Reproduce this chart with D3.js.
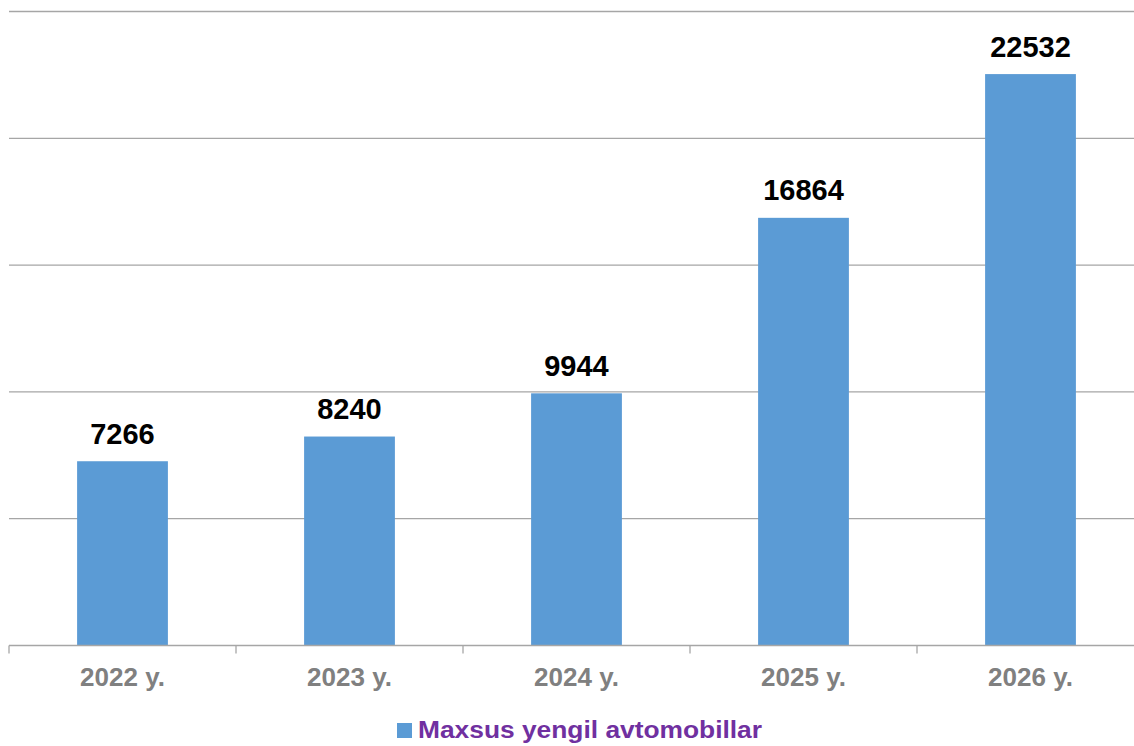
<!DOCTYPE html>
<html><head><meta charset="utf-8">
<script src="https://cdn.jsdelivr.net/npm/d3@7"></script>
<style>html,body{margin:0;padding:0;background:#fff;overflow:hidden}</style>
</head><body><svg id="c" width="1134" height="746"></svg>
<script>
const categories = ["2022 y.", "2023 y.", "2024 y.", "2025 y.", "2026 y."];
const values = [7266, 8240, 9944, 16864, 22532];
const yTicks = [0, 5000, 10000, 15000, 20000, 25000];
const seriesName = "Maxsus yengil avtomobillar";

const svg = d3.select("#c");
const font = "'Liberation Sans', Arial, sans-serif";
const x = d3.scaleBand().domain(categories).range([9, 1144]).paddingInner(0.6).paddingOuter(0.3);
const y = d3.scaleLinear().domain([0, 25000]).range([645.5, 11.5]);

// gridlines
svg.append("g").selectAll("line").data(yTicks.slice(1)).join("line")
  .attr("x1", 9).attr("x2", 1134)
  .attr("y1", d => y(d)).attr("y2", d => y(d))
  .attr("stroke", "#a6a6a6").attr("stroke-width", 1.3);

// bars
svg.append("g").selectAll("rect").data(values).join("rect")
  .attr("x", (d, i) => x(categories[i]))
  .attr("width", x.bandwidth())
  .attr("y", d => y(d))
  .attr("height", d => y(0) - y(d))
  .attr("fill", "#5b9bd5");

// x axis
const step = x.step();
const edges = d3.range(categories.length + 1).map(i => 9 + i * step);
const ax = svg.append("g");
ax.append("line").attr("x1", 9).attr("x2", 1134).attr("y1", y(0)).attr("y2", y(0))
  .attr("stroke", "#a6a6a6").attr("stroke-width", 1.3);
ax.selectAll("line.t").data(edges).join("line").attr("class", "t")
  .attr("x1", d => d).attr("x2", d => d).attr("y1", y(0)).attr("y2", y(0) + 8)
  .attr("stroke", "#a6a6a6").attr("stroke-width", 1.3);
ax.selectAll("text").data(categories).join("text")
  .attr("x", d => x(d) + x.bandwidth() / 2).attr("y", 686)
  .attr("text-anchor", "middle").attr("font-family", font).attr("font-weight", "bold")
  .attr("font-size", 26).attr("fill", "#808080").text(d => d);

// data labels
svg.append("g").selectAll("text").data(values).join("text")
  .attr("x", (d, i) => x(categories[i]) + x.bandwidth() / 2)
  .attr("y", d => y(d) - 17.5)
  .attr("text-anchor", "middle").attr("font-family", font).attr("font-weight", "bold")
  .attr("font-size", 29).attr("fill", "#000").text(d => d);

// legend
const lg = svg.append("g");
lg.append("rect").attr("x", 397).attr("y", 723).attr("width", 15).attr("height", 15).attr("fill", "#5b9bd5");
lg.append("text").attr("x", 418).attr("y", 738).attr("font-family", font).attr("font-weight", "bold")
  .attr("font-size", 23).attr("textLength", 344).attr("lengthAdjust", "spacingAndGlyphs")
  .attr("fill", "#7030a0").text(seriesName);
</script></body></html>
